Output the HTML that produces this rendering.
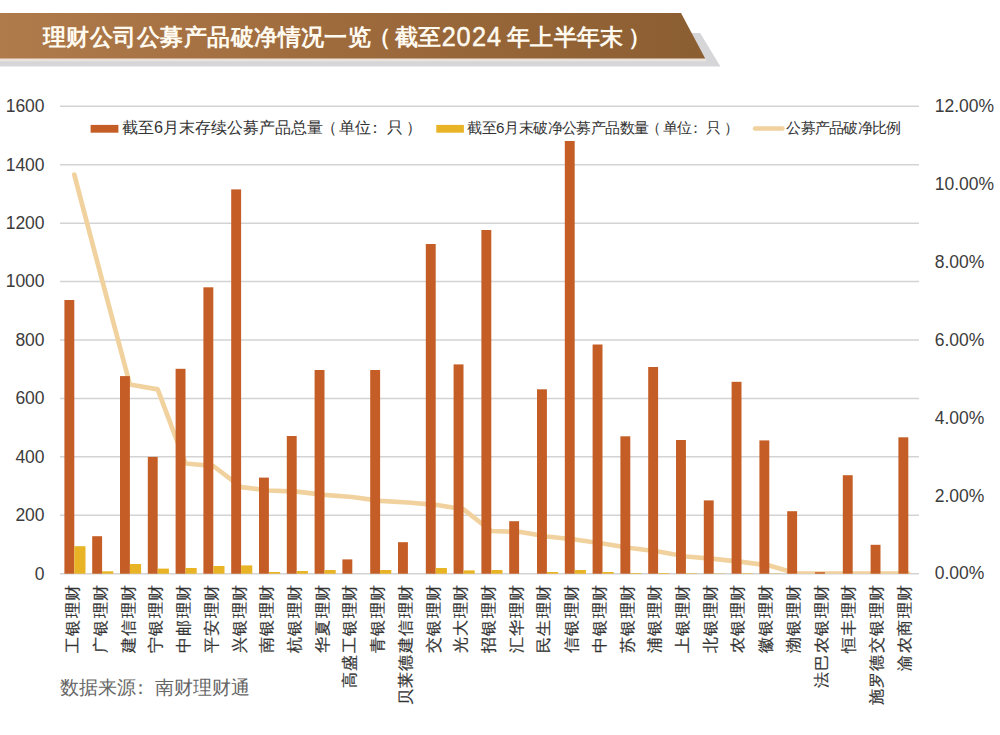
<!DOCTYPE html>
<html><head><meta charset="utf-8"><style>
html,body{margin:0;padding:0;background:#fff;}
body{width:1000px;height:735px;overflow:hidden;position:relative;font-family:"Liberation Sans",sans-serif;}
svg{position:absolute;left:0;top:0;}
.g line{stroke:#d3d3d3;stroke-width:1.5;}
.ax text{font-family:"Liberation Sans",sans-serif;font-size:17.5px;fill:#3c3c3c;}
.o{fill:#c55e26;}
.y{fill:#e8b426;}
.xl text{font-family:"Liberation Sans",sans-serif;font-size:15.6px;fill:#333;stroke:#333;stroke-width:0.2px;}
</style></head><body>
<svg width="1000" height="735" viewBox="0 0 1000 735">
<defs><linearGradient id="bn" x1="0" y1="0" x2="1" y2="0">
<stop offset="0" stop-color="#b07b4b"/><stop offset="0.5" stop-color="#9d6a3c"/><stop offset="1" stop-color="#8b5e31"/></linearGradient></defs>
<polygon points="0,33 700.2,33 720.4,66.6 0,66.6" fill="#d6d6d9"/>
<polygon points="0,58 705,58 706.5,61.3 0,61.3" fill="#ebe3dc"/>
<polygon points="0,13 681,13 705.2,58.4 0,58.4" fill="url(#bn)"/>
<text x="43 66.45 89.9 113.35 136.8 160.25 183.7 207.15 230.6 254.05 277.5 300.95 324.4 347.85 367.8 394.6 418 441.4 456.6 471.8 487 506.6 530.05 553.5 576.95 600.4 628.35" y="45" font-size="22.9" font-weight="700" fill="#fffaf0" font-family="Liberation Sans, sans-serif">理财公司公募产品破净情况一览（截至<tspan fill-opacity="0">2024</tspan>年上半年末）</text>
<text transform="translate(441.7,0) scale(0.92,1)" x="0 16.2 33 49.2" y="46" font-size="27.5" font-weight="400" fill="#fffaf0" stroke="#fffaf0" stroke-width="0.5">2024</text>
<g class="g"><line x1="60" x2="919" y1="573.7" y2="573.7"/><line x1="60" x2="919" y1="515.28" y2="515.28"/><line x1="60" x2="919" y1="456.85" y2="456.85"/><line x1="60" x2="919" y1="398.43" y2="398.43"/><line x1="60" x2="919" y1="340" y2="340"/><line x1="60" x2="919" y1="281.58" y2="281.58"/><line x1="60" x2="919" y1="223.15" y2="223.15"/><line x1="60" x2="919" y1="164.73" y2="164.73"/><line x1="60" x2="919" y1="106.3" y2="106.3"/></g>
<g class="ax"><text text-anchor="end" x="44.6" y="579.5">0</text><text text-anchor="end" x="44.6" y="521.08">200</text><text text-anchor="end" x="44.6" y="462.65">400</text><text text-anchor="end" x="44.6" y="404.23">600</text><text text-anchor="end" x="44.6" y="345.8">800</text><text text-anchor="end" x="44.6" y="287.38">1000</text><text text-anchor="end" x="44.6" y="228.95">1200</text><text text-anchor="end" x="44.6" y="170.53">1400</text><text text-anchor="end" x="44.6" y="112.1">1600</text></g>
<g class="ax"><text x="934.7" y="579.4">0.00%</text><text x="934.7" y="501.5">2.00%</text><text x="934.7" y="423.6">4.00%</text><text x="934.7" y="345.7">6.00%</text><text x="934.7" y="267.8">8.00%</text><text x="934.7" y="189.9">10.00%</text><text x="934.7" y="112">12.00%</text></g>
<clipPath id="pc"><rect x="0" y="0" width="1000" height="573.7"/></clipPath><polyline clip-path="url(#pc)" points="74.3,174.6 102.1,280.2 129.9,384.5 157.7,389.4 185.5,463.5 213.3,466 241.1,487.2 268.9,490.5 296.7,491.7 324.5,494.8 352.3,497 380.1,500.8 407.9,502.5 435.7,504.8 463.5,509.3 491.3,531 519.1,531.8 546.9,536.5 574.7,539.5 602.5,543.5 630.3,548 658.1,551.5 685.9,556.5 713.7,558.8 741.5,561.8 769.3,565.5 797.1,573.7 824.9,573.7 852.7,573.7 880.5,573.7 908.3,573.7" fill="none" stroke="#f1d29e" stroke-width="4.7" stroke-linejoin="round" stroke-linecap="round"/>
<g><rect class="o" x="64.4" y="300" width="9.9" height="273.7"/><rect class="y" x="74.3" y="546.2" width="11.2" height="27.5"/><rect class="o" x="92.2" y="536.2" width="9.9" height="37.5"/><rect class="y" x="102.1" y="571.3" width="11.2" height="2.4"/><rect class="o" x="120" y="376.1" width="9.9" height="197.6"/><rect class="y" x="129.9" y="564" width="11.2" height="9.7"/><rect class="o" x="147.8" y="456.9" width="9.9" height="116.8"/><rect class="y" x="157.7" y="568.6" width="11.2" height="5.1"/><rect class="o" x="175.6" y="368.8" width="9.9" height="204.9"/><rect class="y" x="185.5" y="568" width="11.2" height="5.7"/><rect class="o" x="203.4" y="287.3" width="9.9" height="286.4"/><rect class="y" x="213.3" y="566" width="11.2" height="7.7"/><rect class="o" x="231.2" y="189.4" width="9.9" height="384.3"/><rect class="y" x="241.1" y="565.4" width="11.2" height="8.3"/><rect class="o" x="259" y="477.6" width="9.9" height="96.1"/><rect class="y" x="268.9" y="572" width="11.2" height="1.7"/><rect class="o" x="286.8" y="436" width="9.9" height="137.7"/><rect class="y" x="296.7" y="571" width="11.2" height="2.7"/><rect class="o" x="314.6" y="370" width="9.9" height="203.7"/><rect class="y" x="324.5" y="570" width="11.2" height="3.7"/><rect class="o" x="342.4" y="559.4" width="9.9" height="14.3"/><rect class="o" x="370.2" y="370" width="9.9" height="203.7"/><rect class="y" x="380.1" y="570" width="11.2" height="3.7"/><rect class="o" x="398" y="542.2" width="9.9" height="31.5"/><rect class="o" x="425.8" y="244" width="9.9" height="329.7"/><rect class="y" x="435.7" y="568" width="11.2" height="5.7"/><rect class="o" x="453.6" y="364.4" width="9.9" height="209.3"/><rect class="y" x="463.5" y="570.4" width="11.2" height="3.3"/><rect class="o" x="481.4" y="230" width="9.9" height="343.7"/><rect class="y" x="491.3" y="570" width="11.2" height="3.7"/><rect class="o" x="509.2" y="521.2" width="9.9" height="52.5"/><rect class="o" x="537" y="389.3" width="9.9" height="184.4"/><rect class="y" x="546.9" y="572" width="11.2" height="1.7"/><rect class="o" x="564.8" y="141" width="9.9" height="432.7"/><rect class="y" x="574.7" y="570" width="11.2" height="3.7"/><rect class="o" x="592.6" y="344.5" width="9.9" height="229.2"/><rect class="y" x="602.5" y="572" width="11.2" height="1.7"/><rect class="o" x="620.4" y="436.3" width="9.9" height="137.4"/><rect class="y" x="630.3" y="573" width="11.2" height="0.7"/><rect class="o" x="648.2" y="367" width="9.9" height="206.7"/><rect class="y" x="658.1" y="573" width="11.2" height="0.7"/><rect class="o" x="676" y="440" width="9.9" height="133.7"/><rect class="y" x="685.9" y="573.2" width="11.2" height="0.5"/><rect class="o" x="703.8" y="500.4" width="9.9" height="73.3"/><rect class="y" x="713.7" y="573.4" width="11.2" height="0.3"/><rect class="o" x="731.6" y="381.8" width="9.9" height="191.9"/><rect class="y" x="741.5" y="573.2" width="11.2" height="0.5"/><rect class="o" x="759.4" y="440.4" width="9.9" height="133.3"/><rect class="y" x="769.3" y="573.4" width="11.2" height="0.3"/><rect class="o" x="787.2" y="511.2" width="9.9" height="62.5"/><rect class="o" x="815" y="572.2" width="9.9" height="1.5"/><rect class="o" x="842.8" y="475.2" width="9.9" height="98.5"/><rect class="o" x="870.6" y="544.8" width="9.9" height="28.9"/><rect class="o" x="898.4" y="437.3" width="9.9" height="136.4"/></g>
<rect x="90.6" y="124.9" width="27.8" height="7.8" fill="#c55e26"/>
<text x="121.8 137.85 153.9 162.7 178.75 194.8 210.85 226.9 242.95 259 275.05 291.1 307.15 321.2 339.25 355.3 367.35 387.4 406.05" y="132.8" font-size="16.2" fill="#333">截至6月末存续公募产品总量（单位：只）</text>
<rect x="436.3" y="124.9" width="27.6" height="7.8" fill="#e8b426"/>
<text x="467.3 481.7 496.1 504.4 518.8 533.2 547.6 562 576.4 590.8 605.2 619.6 634 646.4 662.8 677.2 688.1 706 724.4" y="132.7" font-size="15.2" fill="#333">截至6月末破净公募产品数量（单位：只）</text>
<line x1="755" y1="128.5" x2="782.5" y2="128.5" stroke="#f1d29e" stroke-width="4.5" stroke-linecap="round"/>
<text x="786.2 800.5 814.8 829.1 843.4 857.7 872 886.3" y="132.7" font-size="15.2" fill="#333">公募产品破净比例</text>
<g class="xl" text-anchor="start"><text transform="translate(78.33,585.2) rotate(-90)" x="-67.95 -50.5 -33.05 -15.6" y="0">工银理财</text><text transform="translate(106.04,585.2) rotate(-90)" x="-67.95 -50.5 -33.05 -15.6" y="0">广银理财</text><text transform="translate(133.75,585.2) rotate(-90)" x="-67.95 -50.5 -33.05 -15.6" y="0">建信理财</text><text transform="translate(161.46,585.2) rotate(-90)" x="-67.95 -50.5 -33.05 -15.6" y="0">宁银理财</text><text transform="translate(189.17,585.2) rotate(-90)" x="-67.95 -50.5 -33.05 -15.6" y="0">中邮理财</text><text transform="translate(216.88,585.2) rotate(-90)" x="-67.95 -50.5 -33.05 -15.6" y="0">平安理财</text><text transform="translate(244.59,585.2) rotate(-90)" x="-67.95 -50.5 -33.05 -15.6" y="0">兴银理财</text><text transform="translate(272.3,585.2) rotate(-90)" x="-67.95 -50.5 -33.05 -15.6" y="0">南银理财</text><text transform="translate(300.01,585.2) rotate(-90)" x="-67.95 -50.5 -33.05 -15.6" y="0">杭银理财</text><text transform="translate(327.72,585.2) rotate(-90)" x="-67.95 -50.5 -33.05 -15.6" y="0">华夏理财</text><text transform="translate(355.43,585.2) rotate(-90)" x="-102.85 -85.4 -67.95 -50.5 -33.05 -15.6" y="0">高盛工银理财</text><text transform="translate(383.14,585.2) rotate(-90)" x="-67.95 -50.5 -33.05 -15.6" y="0">青银理财</text><text transform="translate(410.85,585.2) rotate(-90)" x="-120.3 -102.85 -85.4 -67.95 -50.5 -33.05 -15.6" y="0">贝莱德建信理财</text><text transform="translate(438.56,585.2) rotate(-90)" x="-67.95 -50.5 -33.05 -15.6" y="0">交银理财</text><text transform="translate(466.27,585.2) rotate(-90)" x="-67.95 -50.5 -33.05 -15.6" y="0">光大理财</text><text transform="translate(493.98,585.2) rotate(-90)" x="-67.95 -50.5 -33.05 -15.6" y="0">招银理财</text><text transform="translate(521.69,585.2) rotate(-90)" x="-67.95 -50.5 -33.05 -15.6" y="0">汇华理财</text><text transform="translate(549.4,585.2) rotate(-90)" x="-67.95 -50.5 -33.05 -15.6" y="0">民生理财</text><text transform="translate(577.11,585.2) rotate(-90)" x="-67.95 -50.5 -33.05 -15.6" y="0">信银理财</text><text transform="translate(604.82,585.2) rotate(-90)" x="-67.95 -50.5 -33.05 -15.6" y="0">中银理财</text><text transform="translate(632.53,585.2) rotate(-90)" x="-67.95 -50.5 -33.05 -15.6" y="0">苏银理财</text><text transform="translate(660.24,585.2) rotate(-90)" x="-67.95 -50.5 -33.05 -15.6" y="0">浦银理财</text><text transform="translate(687.95,585.2) rotate(-90)" x="-67.95 -50.5 -33.05 -15.6" y="0">上银理财</text><text transform="translate(715.66,585.2) rotate(-90)" x="-67.95 -50.5 -33.05 -15.6" y="0">北银理财</text><text transform="translate(743.37,585.2) rotate(-90)" x="-67.95 -50.5 -33.05 -15.6" y="0">农银理财</text><text transform="translate(771.08,585.2) rotate(-90)" x="-67.95 -50.5 -33.05 -15.6" y="0">徽银理财</text><text transform="translate(798.79,585.2) rotate(-90)" x="-67.95 -50.5 -33.05 -15.6" y="0">渤银理财</text><text transform="translate(826.5,585.2) rotate(-90)" x="-102.85 -85.4 -67.95 -50.5 -33.05 -15.6" y="0">法巴农银理财</text><text transform="translate(854.21,585.2) rotate(-90)" x="-67.95 -50.5 -33.05 -15.6" y="0">恒丰理财</text><text transform="translate(881.92,585.2) rotate(-90)" x="-120.3 -102.85 -85.4 -67.95 -50.5 -33.05 -15.6" y="0">施罗德交银理财</text><text transform="translate(909.63,585.2) rotate(-90)" x="-85.4 -67.95 -50.5 -33.05 -15.6" y="0">渝农商理财</text></g>
<text x="60.3 79.25 98.2 117.15 131.1 155.05 174 192.95 211.9 230.85" y="694" font-size="18.6" fill="#666">数据来源：南财理财通</text>
</svg>
</body></html>
